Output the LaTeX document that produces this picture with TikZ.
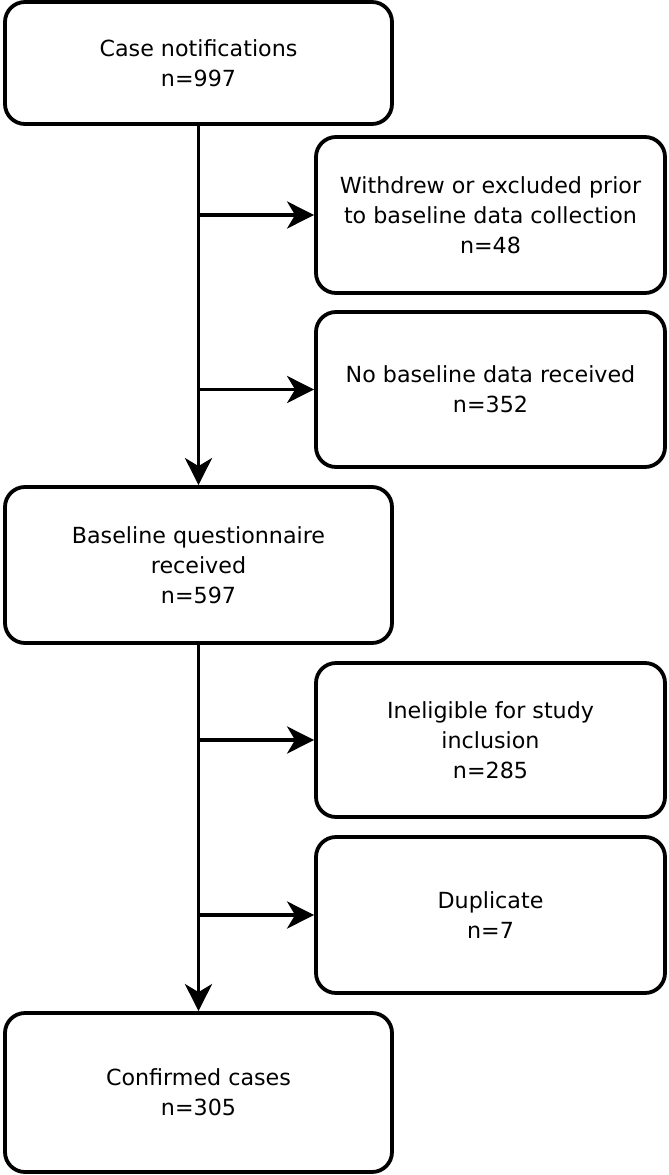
\documentclass[tikz,border=0pt]{standalone}
\usepackage{fontspec}
\setmainfont{DejaVu Sans}
\usetikzlibrary{arrows.meta, positioning}

\tikzset{
	box/.style={draw, line width=3.8pt, rounded corners=20pt, align=center,
		inner sep=0pt, minimum height=156pt,
		font=\fontsize{22.2}{30}\selectfont},
	mainbox/.style={box, minimum width=387pt},
	sidebox/.style={box, minimum width=349pt},
	flow/.style={line width=3.8pt, -{Stealth[length=27pt, width=27pt, inset=8pt]}}
}

\begin{document}
\begin{tikzpicture}[x=1pt, y=-1pt]
	\def\mainx{198.5};
	\def\sidex{490.5};
	
	\useasboundingbox (0,0) rectangle (669,1175);
	
	\node [mainbox, minimum height=122pt] (notif) at (\mainx,63) {Case notifications\\n=997};
	\node [sidebox] (withdrew) at (\sidex,215) {Withdrew or excluded prior\\to baseline data collection\\n=48};
	\node [sidebox, minimum height=155pt] (nobase) at (\sidex,389.5) {No baseline data received\\n=352};
	\node [mainbox] (baseline) at (\mainx,565) {Baseline questionnaire\\received\\n=597};
	\node [sidebox, minimum height=154pt] (inelig) at (\sidex,740) {Ineligible for study\\inclusion\\n=285};
	\node [sidebox] (dup) at (\sidex,915) {Duplicate\\n=7};
	\node [mainbox, minimum height=159pt] (confirmed) at (\mainx,1092.5) {Confirmed cases\\n=305};
	
	\coordinate (j1) at (notif.south |- withdrew.west);
	\coordinate (j2) at (notif.south |- nobase.west);
	\coordinate (j3) at (baseline.south |- inelig.west);
	\coordinate (j4) at (baseline.south |- dup.west);
	
	\draw [flow] (notif) -- (baseline);
	\draw [flow] (j1) -- (withdrew);
	\draw [flow] (j2) -- (nobase);
	
	\draw [flow] (baseline) -- (confirmed);
	\draw [flow] (j3) -- (inelig);
	\draw [flow] (j4) -- (dup);
\end{tikzpicture}
\end{document}
